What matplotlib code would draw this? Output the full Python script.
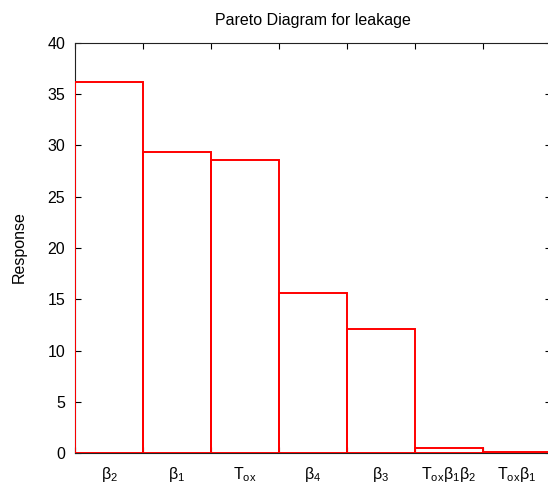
import matplotlib
matplotlib.use('Agg')
import matplotlib.pyplot as plt
import numpy as np

plt.rcParams['font.family'] = ['Liberation Sans', 'DejaVu Sans']
plt.rcParams['mathtext.fontset'] = 'custom'
plt.rcParams['mathtext.rm'] = 'Liberation Sans'
plt.rcParams['mathtext.it'] = 'Liberation Sans'
plt.rcParams['mathtext.default'] = 'regular'

# effects sorted by response, largest first
factors = [r'$\beta_2$', r'$\beta_1$', r'$T_{ox}$', r'$\beta_4$', r'$\beta_3$',
           r'$T_{ox}\beta_1\beta_2$', r'$T_{ox}\beta_1$']
response = [36.2, 29.3, 28.6, 15.6, 12.1, 0.5, 0.1]
yticks = [0, 5, 10, 15, 20, 25, 30, 35, 40]

fig = plt.figure(figsize=(5.48, 4.87), dpi=100)
# right border sits just past the edge of the image
ax = fig.add_axes([0.1369, 0.0688, 0.8686, 0.8439])

pos = np.arange(len(response))
ax.bar(pos, response, width=1.0, align='edge', fill=False,
       edgecolor='#ff0000', linewidth=1.4, zorder=3)

ax.set_xlim(0, len(response))
ax.set_ylim(0, 40)

ax.set_xticks(pos + 0.5)
ax.set_xticklabels(factors)
ax.set_xticks(np.arange(len(response) + 1), minor=True)
ax.tick_params(axis='x', which='major', length=0, pad=8.5, labelsize=11.5)
ax.tick_params(axis='x', which='minor', direction='in', length=4.5,
               top=True, bottom=True, width=0.8)

ax.set_yticks(yticks)
ax.tick_params(axis='y', which='major', direction='in', length=4.5,
               left=True, right=True, pad=7, labelsize=11.5, width=0.8)

for s in ax.spines.values():
    s.set_linewidth(0.8)
    s.set_color('#222222')

ax.set_title('Pareto Diagram for leakage', fontsize=11.5, pad=12.6)
fig.text(19 / 548, 0.492, 'Response', rotation=90, ha='center', va='center',
         fontsize=11.5)

fig.savefig('out.png', dpi=100)
